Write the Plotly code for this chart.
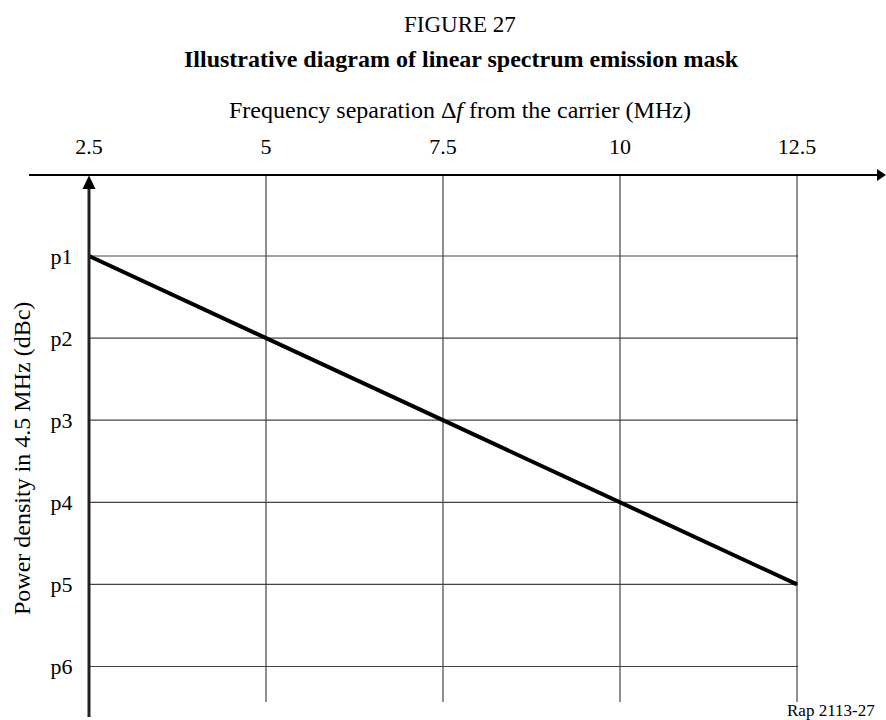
import plotly.graph_objects as go

# ---- data ----
freq_ticks = [2.5, 5, 7.5, 10, 12.5]
freq_tick_text = ["2.5", "5", "7.5", "10", "12.5"]
level_labels = ["p1", "p2", "p3", "p4", "p5", "p6"]
mask_freq = [2.5, 12.5]
mask_level = ["p1", "p5"]

level_pos = {lab: i + 1 for i, lab in enumerate(level_labels)}
level_vals = [level_pos[l] for l in level_labels]
mask_y = [level_pos[l] for l in mask_level]

W, H = 886, 720
FONT = "Liberation Serif, Times New Roman, serif"

# axis scaling (pixel <-> data)
X0_PX, X_PER_UNIT = 89, 70.8          # 2.5 MHz at px 89
Y1_PX, Y_PER_UNIT = 256, 82.1         # p1 at px 256

def px2x(px):
    return 2.5 + (px - X0_PX) / X_PER_UNIT

def px2y(py):
    return 1 + (py - Y1_PX) / Y_PER_UNIT

x_range = [px2x(0), px2x(W)]
y_range = [px2y(H), px2y(0)]  # reversed

y_axis_line = px2y(175)
grid_bottom = px2y(702)
vaxis_bottom = px2y(717)

fig = go.Figure()

# mask line
fig.add_trace(go.Scatter(x=mask_freq, y=mask_y, mode="lines",
                         line=dict(color="black", width=4),
                         showlegend=False, hoverinfo="skip"))

shapes = []
grid_col = "#444444"
# horizontal grid lines
for v in level_vals:
    shapes.append(dict(type="line", xref="x", yref="y", x0=freq_ticks[0], x1=freq_ticks[-1] + 0.015,
                       y0=v, y1=v, line=dict(color=grid_col, width=1.2), layer="below"))
# vertical grid lines
for f in freq_ticks[1:]:
    shapes.append(dict(type="line", xref="x", yref="y", x0=f, x1=f,
                       y0=y_axis_line, y1=grid_bottom, line=dict(color=grid_col, width=1.2), layer="below"))
# horizontal axis line with arrow
shapes.append(dict(type="line", xref="x", yref="y", x0=px2x(29), x1=px2x(878),
                   y0=y_axis_line, y1=y_axis_line, line=dict(color="black", width=2)))
shapes.append(dict(type="path", xref="x", yref="y",
                   path=f"M {px2x(877)} {px2y(169)} L {px2x(886)} {y_axis_line} L {px2x(877)} {px2y(181)} Z",
                   fillcolor="black", line=dict(color="black", width=0)))
# vertical axis with arrow
shapes.append(dict(type="line", xref="x", yref="y", x0=freq_ticks[0], x1=freq_ticks[0],
                   y0=px2y(186), y1=vaxis_bottom, line=dict(color="#222222", width=3)))
shapes.append(dict(type="path", xref="x", yref="y",
                   path=f"M {px2x(82.5)} {px2y(189)} L {px2x(89)} {px2y(175.5)} L {px2x(95.5)} {px2y(189)} Z",
                   fillcolor="black", line=dict(color="black", width=0)))

annotations = [
    dict(text="FIGURE 27", x=460 / W, y=1 - 25 / H, xref="paper", yref="paper",
         showarrow=False, font=dict(family=FONT, size=23, color="black"),
         xanchor="center", yanchor="middle"),
    dict(text="<b>Illustrative diagram of linear spectrum emission mask</b>", x=461 / W, y=1 - 59 / H,
         xref="paper", yref="paper", showarrow=False,
         font=dict(family=FONT, size=24, color="black"), xanchor="center", yanchor="middle"),
    dict(text="Frequency separation Δ<i>f</i> from the carrier (MHz)", x=460 / W, y=1 - 110 / H,
         xref="paper", yref="paper", showarrow=False,
         font=dict(family=FONT, size=24, color="black"), xanchor="center", yanchor="middle"),
    dict(text="Power density in 4.5 MHz (dBc)", x=22 / W, y=1 - 459 / H, textangle=-90,
         xref="paper", yref="paper", showarrow=False,
         font=dict(family=FONT, size=24, color="black"), xanchor="center", yanchor="middle"),
    dict(text="Rap 2113-27", x=877 / W, y=1 - 710 / H, xref="paper", yref="paper",
         showarrow=False, font=dict(family=FONT, size=17, color="black"),
         xanchor="right", yanchor="middle"),
]

fig.update_layout(
    width=W, height=H,
    margin=dict(l=0, r=0, t=0, b=0),
    paper_bgcolor="white", plot_bgcolor="white",
    shapes=shapes, annotations=annotations,
    xaxis=dict(range=x_range, anchor="free", position=1 - 175 / H, side="top",
               tickvals=freq_ticks, ticktext=freq_tick_text,
               ticks="outside", ticklen=12, tickcolor="rgba(0,0,0,0)",
               showgrid=False, zeroline=False, showline=False,
               tickfont=dict(family=FONT, size=22, color="black")),
    yaxis=dict(range=y_range, anchor="free", position=X0_PX / W, side="left",
               tickvals=level_vals, ticktext=level_labels,
               ticks="outside", ticklen=12, tickcolor="rgba(0,0,0,0)",
               showgrid=False, zeroline=False, showline=False,
               tickfont=dict(family=FONT, size=22, color="black")),
    showlegend=False,
)

fig.write_html("out.html", config={"displayModeBar": False},
               post_script="document.body.style.margin='0';document.body.style.padding='0';")
